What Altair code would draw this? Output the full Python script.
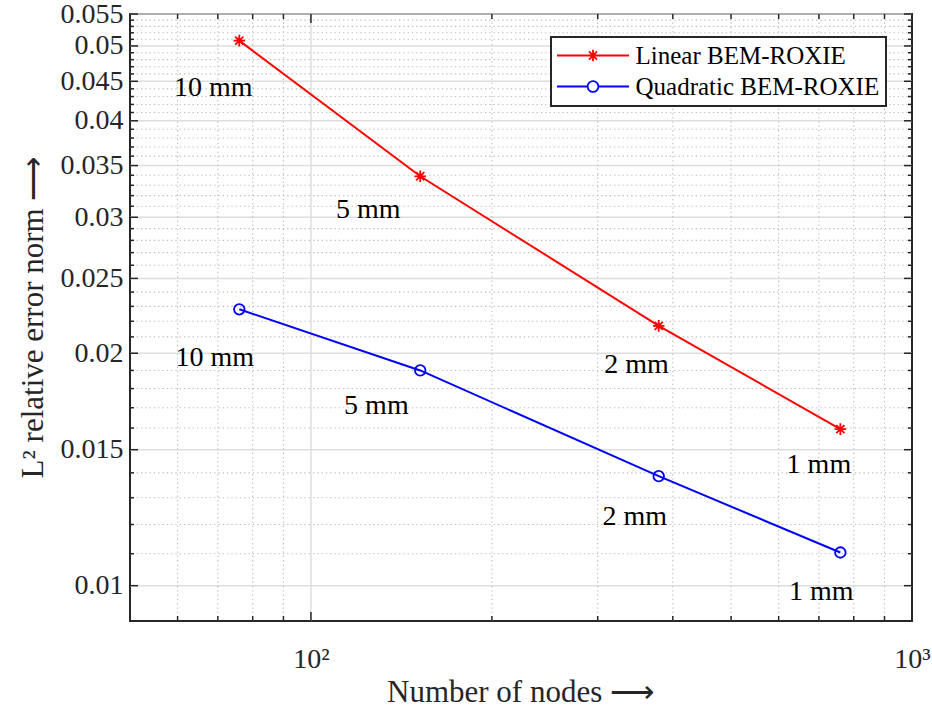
import altair as alt
import pandas as pd

# ---------------- data ----------------
nodes = [76, 152, 379, 760]
linear_err = [0.0508, 0.0339, 0.0217, 0.01595]
quad_err = [0.0228, 0.0190, 0.01386, 0.01104]
mesh = ["10 mm", "5 mm", "2 mm", "1 mm"]
series = ["Linear BEM-ROXIE", "Quadratic BEM-ROXIE"]

# annotation anchor positions (data units)
lin_lab_x = [68.8, 124.6, 348.0, 700.0]
lin_lab_y = [0.0441, 0.0307, 0.0193, 0.01432]
quad_lab_x = [69.2, 128.5, 345.7, 706.6]
quad_lab_y = [0.0197, 0.01707, 0.01228, 0.00981]

x_major = [100]
x_minor = [60, 70, 80, 90, 200, 300, 400, 500, 600, 700, 800, 900]
x_labels = [100, 1000]
y_major = [0.01, 0.015, 0.02, 0.025, 0.03, 0.035, 0.04, 0.045, 0.05, 0.055]
y_minor = [0.011, 0.012, 0.013, 0.014, 0.016, 0.017, 0.018, 0.019,
           0.021, 0.022, 0.023, 0.024, 0.026, 0.027, 0.028, 0.029,
           0.031, 0.032, 0.033, 0.034, 0.036, 0.037, 0.038, 0.039,
           0.041, 0.042, 0.043, 0.044, 0.046, 0.047, 0.048, 0.049,
           0.051, 0.052, 0.053, 0.054]

X_TITLE = "Number of nodes ⟶"
Y_TITLE = "L² relative error norm ⟶"

# ---------------- tables ----------------
pts = pd.DataFrame({
    "nodes": nodes * 2,
    "err": linear_err + quad_err,
    "series": [series[0]] * 4 + [series[1]] * 4,
    "order": list(range(4)) * 2,
})
labs = pd.DataFrame({
    "nodes": lin_lab_x + quad_lab_x,
    "err": lin_lab_y + quad_lab_y,
    "text": mesh * 2,
})
xmaj = pd.DataFrame({"nodes": x_major})
xmin = pd.DataFrame({"nodes": x_minor})
ymaj = pd.DataFrame({"err": y_major})
ymin = pd.DataFrame({"err": y_minor})

W, H = 782, 607
FONT = "Liberation Serif"
AX = "#262626"

xs = alt.Scale(type="log", domain=[50, 1000], nice=False)
ys = alt.Scale(type="log", domain=[0.009, 0.055], nice=False)
cs = alt.Scale(domain=series, range=["#ff0000", "#0000ff"])

XAX = alt.Axis(values=x_labels, labelExpr="datum.value == 100 ? '10²' : '10³'",
               ticks=False, domain=False, grid=False, labelFlush=False,
               labelOverlap=False, labelFont=FONT, labelFontSize=28,
               labelColor=AX, labelBaseline="alphabetic", labelPadding=46,
               title=X_TITLE, titleFont=FONT, titleFontSize=31,
               titleFontWeight="normal", titleColor=AX,
               titleBaseline="alphabetic", titleX=390, titleY=80,
               titleAnchor="middle")
YAX = alt.Axis(values=y_major, format="~g", ticks=False, domain=False,
               grid=False, labelOverlap=False, labelFlush=False,
               labelFont=FONT, labelFontSize=28, labelColor=AX,
               labelPadding=7, labelBaseline="middle",
               title=Y_TITLE, titleFont=FONT,
               titleFontSize=31, titleFontWeight="normal", titleColor=AX,
               titleBaseline="alphabetic", titleAngle=270,
               titleX=-88, titleY=303, titleAlign="center")

def X(field="nodes"):
    return alt.X(field + ":Q", scale=xs, axis=XAX, title=X_TITLE)

def Y(field="err"):
    return alt.Y(field + ":Q", scale=ys, axis=YAX, title=Y_TITLE)

STAR = "M-1.1,0H1.1M0,-1.1V1.1M-0.78,-0.78L0.78,0.78M-0.78,0.78L0.78,-0.78"
LEG_STAR = "M-6,0H6M0,-0.95V0.95M-0.67,-0.67L0.67,0.67M-0.67,0.67L0.67,-0.67"
LEG_CIRC = "M-6,0H-0.9M0.9,0H6M0.9,0A0.9,0.9 0 1,1 -0.9,0A0.9,0.9 0 1,1 0.9,0"

LEG = alt.Legend(
    title=None, orient="none", legendX=421, legendY=23, direction="vertical",
    symbolSize=144, symbolStrokeWidth=1.8, symbolOffset=23.5, symbolOpacity=1,
    symbolFillColor="transparent",
    labelOffset=30, labelFont=FONT, labelFontSize=25, labelColor="#000000",
    labelLimit=0, rowPadding=5, padding=6, strokeColor=AX, fillColor="#ffffff",
)

# ---------------- grid ----------------
grid_major_x = alt.Chart(xmaj).mark_rule(color="#dedede", strokeWidth=1.5).encode(x=X())
grid_major_y = alt.Chart(ymaj).mark_rule(color="#dedede", strokeWidth=1.5).encode(y=Y())
grid_minor_x = alt.Chart(xmin).mark_rule(color="#bdbdbd", strokeWidth=1.1,
                                         strokeDash=[1.3, 3]).encode(x=X())
grid_minor_y = alt.Chart(ymin).mark_rule(color="#bdbdbd", strokeWidth=1.1,
                                         strokeDash=[1.3, 3]).encode(y=Y())

# ---------------- data marks ----------------
def series_layers(name, color, shape):
    base = alt.Chart(pts).transform_filter(alt.datum.series == name)
    line = base.mark_line(strokeWidth=2, color=color).encode(x=X(), y=Y(), order="order:Q")
    mk = base.mark_point(shape=shape, filled=False, size=110, strokeWidth=1.8,
                         color=color, opacity=1).encode(x=X(), y=Y())
    return [line, mk]

lin_layers = series_layers(series[0], "#ff0000", STAR)
quad_layers = series_layers(series[1], "#0000ff", "circle")

# invisible layer that only carries the legend (line + marker symbols)
legend_layer = alt.Chart(pts).mark_point(filled=False, opacity=0, strokeWidth=1.8).encode(
    x=X(), y=Y(),
    color=alt.Color("series:N", scale=cs, legend=LEG),
    shape=alt.Shape("series:N", scale=alt.Scale(domain=series, range=[LEG_STAR, LEG_CIRC]),
                    legend=LEG),
)

texts = alt.Chart(labs).mark_text(font=FONT, fontSize=28, color="#000000",
                                  align="center", baseline="middle").encode(
    x=X(), y=Y(), text="text:N")

# ---------------- inward ticks (all four sides) ----------------
def yticks(df, length):
    left = alt.Chart(df).mark_rule(color=AX, strokeWidth=1.5).encode(
        y=Y(), x=alt.value(0), x2=alt.value(length))
    right = alt.Chart(df).mark_rule(color=AX, strokeWidth=1.5).encode(
        y=Y(), x=alt.value(W - length), x2=alt.value(W))
    return [left, right]

def xticks(df, length):
    bottom = alt.Chart(df).mark_rule(color=AX, strokeWidth=1.5).encode(
        x=X(), y=alt.value(H - length), y2=alt.value(H))
    top = alt.Chart(df).mark_rule(color=AX, strokeWidth=1.5).encode(
        x=X(), y=alt.value(0), y2=alt.value(length))
    return [bottom, top]

tick_layers = yticks(ymaj, 8) + yticks(ymin, 4) + xticks(xmaj, 9) + xticks(xmin, 5)

chart = alt.layer(
    grid_major_x, grid_major_y, grid_minor_x, grid_minor_y,
    *lin_layers, *quad_layers, legend_layer, texts, *tick_layers,
).properties(
    width=W, height=H,
    autosize=alt.AutoSizeParams(type="none"),
    padding={"left": 130, "top": 14, "right": 20, "bottom": 94},
    background="#ffffff",
).configure_view(stroke=AX, strokeWidth=2).configure_legend(strokeWidth=2)

chart.save("out.html", embed_options={"renderer": "svg", "actions": False})
